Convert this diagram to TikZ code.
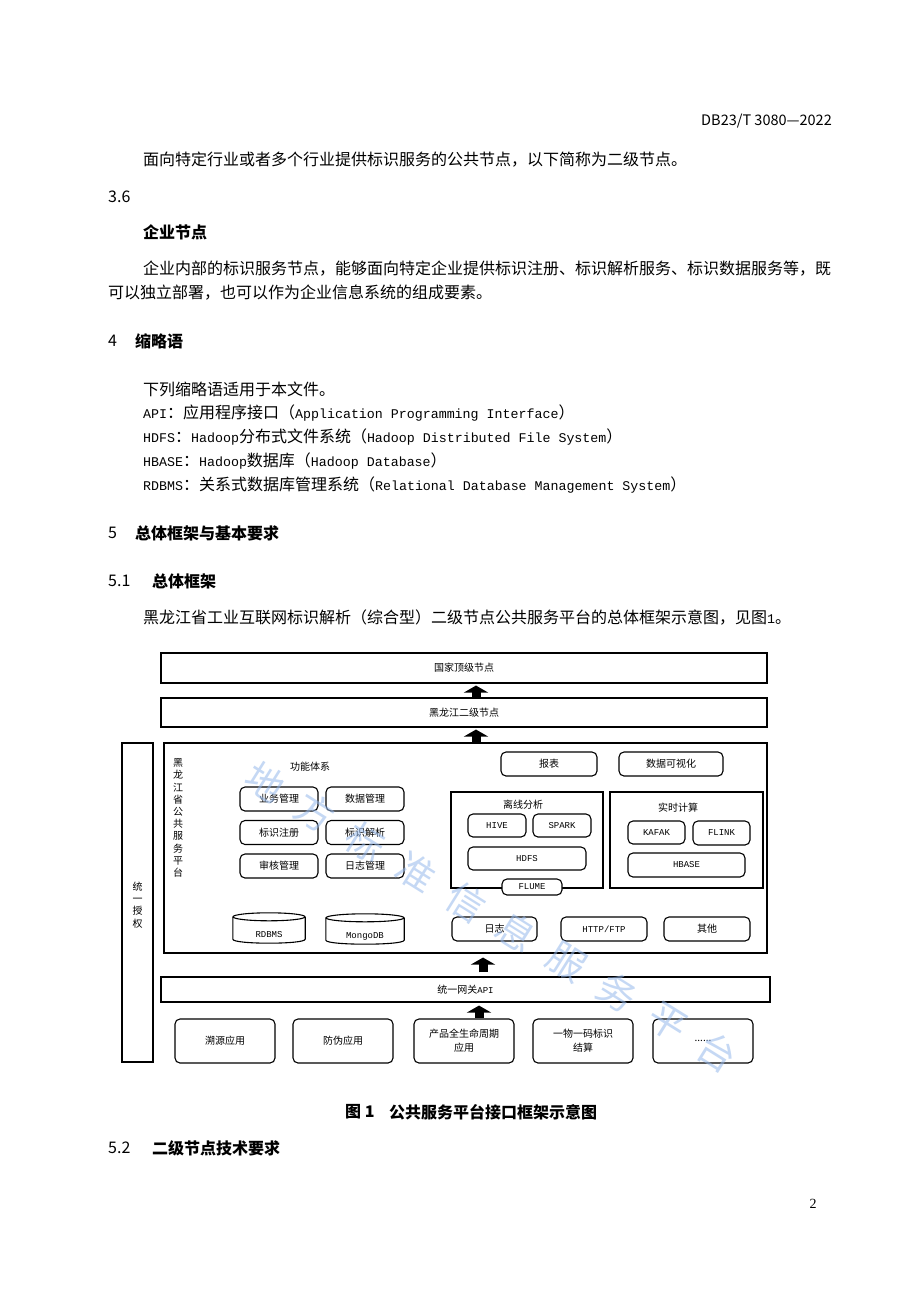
\documentclass[tikz,border=0pt]{standalone}
\usepackage{fontspec}
\setmainfont{Noto Sans CJK SC}
\newfontfamily\latmono{Liberation Mono}
\newfontfamily\latserif{Liberation Serif}
\usetikzlibrary{arrows.meta}
\definecolor{wmblue}{RGB}{150,185,235}
\newcommand\en[1]{{\fontsize{13.3pt}{16pt}\latmono #1}}
\newcommand\dm[1]{{\fontsize{9pt}{10pt}\latmono #1}}
\tikzset{
  body/.style={anchor=west, inner sep=0pt, font=\fontsize{16pt}{19pt}\selectfont},
  heading/.style={body, font=\fontsize{16pt}{19pt}\selectfont\bfseries},
  layer/.style={draw, line width=1.1pt, inner sep=0pt, align=center, font=\fontsize{10pt}{14pt}\selectfont},
  tile/.style={layer, rounded corners=5pt},
  size/.style 2 args={minimum width=#1pt, minimum height=#2pt},
  vtext/.style={inner sep=0pt, align=center, font=\fontsize{10pt}{12.2pt}\selectfont},
  upblock/.style={line width=9pt, -{Triangle[width=24pt,length=7pt]}},
}
\begin{document}
\begin{tikzpicture}[x=1pt,y=-1pt]
\useasboundingbox[fill=white] (0,0) rectangle (920,1302);
% page text
\node[anchor=east, inner sep=0pt, font=\fontsize{14.5pt}{17pt}\selectfont] (docno) at (832,121) {DB23/T 3080—2022};
\node[body] (def35) at (143,160) {面向特定行业或者多个行业提供标识服务的公共节点，以下简称为二级节点。};
\node[body] (no36) at (108,197) {3.6};
\node[heading] (term36) at (143,232) {企业节点};
\node[body] (def36a) at (143,269) {企业内部的标识服务节点，能够面向特定企业提供标识注册、标识解析服务、标识数据服务等，既};
\node[body] (def36b) at (108,293) {可以独立部署，也可以作为企业信息系统的组成要素。};
\node[body] (no4) at (108,341) {4};
\node[heading] (sec4) at (135,341) {缩略语};
\node[body] (abbr0) at (143,389) {下列缩略语适用于本文件。};
\node[body] (abbr1) at (143,413) {\en{API}：应用程序接口（\en{Application Programming Interface}）};
\node[body] (abbr2) at (143,437) {\en{HDFS}：\en{Hadoop}分布式文件系统（\en{Hadoop Distributed File System}）};
\node[body] (abbr3) at (143,461) {\en{HBASE}：\en{Hadoop}数据库（\en{Hadoop Database}）};
\node[body] (abbr4) at (143,485) {\en{RDBMS}：关系式数据库管理系统（\en{Relational Database Management System}）};
\node[body] (no5) at (108,533) {5};
\node[heading] (sec5) at (135,533) {总体框架与基本要求};
\node[body] (no51) at (108,581) {5.1};
\node[heading] (sec51) at (152,581) {总体框架};
\node[body] (intro) at (143,617) {黑龙江省工业互联网标识解析（综合型）二级节点公共服务平台的总体框架示意图，见图\en{1}。};
\node[heading] (capno) at (345,1112) {图 1};
\node[heading] (captext) at (389,1112) {公共服务平台接口框架示意图};
\node[body] (no52) at (108,1148) {5.2};
\node[heading] (sec52) at (152,1148) {二级节点技术要求};
\node[inner sep=0pt, font=\fontsize{14pt}{16pt}\latserif] (pageno) at (813,1204) {2};
% framework
\node[layer, size={606}{30}] (natl) at (464,668) {国家顶级节点};
\node[layer, size={606}{29}] (heilj) at (464,712.5) {黑龙江二级节点};
\node[layer, size={31}{319}] (auth) at (137.5,902.5) {};
\node[vtext] (authlabel) at (137.5,905) {统\\一\\授\\权};
\node[layer, size={603}{210}] (platform) at (465.5,848) {};
\node[vtext] (platlabel) at (178,818) {黑\\龙\\江\\省\\公\\共\\服\\务\\平\\台};
\node[vtext] (functitle) at (310,767) {功能体系};
\node[tile, size={78}{24}] (biz) at (279,799) {业务管理};
\node[tile, size={78}{24}] (data) at (365,799) {数据管理};
\node[tile, size={78}{24}] (reg) at (279,832.5) {标识注册};
\node[tile, size={78}{24}] (res) at (365,832.5) {标识解析};
\node[tile, size={78}{24}] (audit) at (279,866) {审核管理};
\node[tile, size={78}{24}] (logmgr) at (365,866) {日志管理};
% databases
\node[inner sep=0pt, size={72}{22}] (rdbms) at (269,928) {};
\draw[line width=1.1pt] (rdbms.north west) -- (rdbms.south west)
  .. controls ([yshift=-5.3pt]rdbms.south west) and ([yshift=-5.3pt]rdbms.south east) .. (rdbms.south east) -- (rdbms.north east);
\draw[line width=1.1pt] (rdbms.north) ellipse[x radius=36pt, y radius=4pt];
\node[inner sep=0pt] (rdbmslabel) at (269,935) {\dm{RDBMS}};
\node[inner sep=0pt, size={78}{22}] (mongo) at (365,929) {};
\draw[line width=1.1pt] (mongo.north west) -- (mongo.south west)
  .. controls ([yshift=-5.3pt]mongo.south west) and ([yshift=-5.3pt]mongo.south east) .. (mongo.south east) -- (mongo.north east);
\draw[line width=1.1pt] (mongo.north) ellipse[x radius=39pt, y radius=4pt];
\node[inner sep=0pt] (mongolabel) at (365,936) {\dm{MongoDB}};
% analysis
\node[tile, size={96}{24}] (report) at (549,764) {报表};
\node[tile, size={104}{24}] (visual) at (671,764) {数据可视化};
\node[layer, size={152}{96}] (offline) at (527,840) {};
\node[vtext] (offtitle) at (523,805) {离线分析};
\node[tile, size={58}{23}] (hive) at (497,825.5) {\dm{HIVE}};
\node[tile, size={58}{23}] (spark) at (562,825.5) {\dm{SPARK}};
\node[tile, size={118}{23}] (hdfs) at (527,858.5) {\dm{HDFS}};
\node[tile, fill=white, size={60}{16}] (flume) at (532,887) {\dm{FLUME}};
\node[layer, size={153}{96}] (realtime) at (686.5,840) {};
\node[vtext] (rttitle) at (678,808) {实时计算};
\node[tile, size={57}{23}] (kafak) at (656.5,832.5) {\dm{KAFAK}};
\node[tile, size={57}{24}] (flink) at (721.5,833) {\dm{FLINK}};
\node[tile, size={117}{24}] (hbase) at (686.5,865) {\dm{HBASE}};
\node[tile, size={85}{24}] (logsrc) at (494.5,929) {日志};
\node[tile, size={86}{24}] (http) at (604,929) {\dm{HTTP/FTP}};
\node[tile, size={86}{24}] (other) at (707,929) {其他};
% gateway and applications
\node[layer, size={609}{25}] (api) at (465.5,989.5) {统一网关\dm{API}};
\node[tile, size={100}{44}] (trace) at (225,1041) {溯源应用};
\node[tile, size={100}{44}] (anti) at (343,1041) {防伪应用};
\node[tile, size={100}{44}] (life) at (464,1041) {产品全生命周期\\应用};
\node[tile, size={100}{44}] (code) at (583,1041) {一物一码标识\\结算};
\node[tile, size={100}{44}] (more) at (703,1041) {......};
% arrows
\coordinate (colA) at (476,0);
\coordinate (colB) at (483,0);
\coordinate (colC) at (479,0);
\draw[upblock, shorten >=2pt] (colA |- heilj.north) -- (colA |- natl.south);
\draw[upblock, shorten >=2pt] (colA |- platform.north) -- (colA |- heilj.south);
\draw[upblock, shorten <=4pt, shorten >=4pt] (colB |- api.north) -- (colB |- platform.south);
\draw[upblock, shorten >=3pt] (colC |- life.north) -- (colC |- api.south);
% watermark
\foreach \c [count=\i from 0] in {地,方,标,准,信,息,服,务,平,台}
  \node[text=wmblue, opacity=0.55, rotate=-32, inner sep=0pt, font=\fontsize{38pt}{40pt}\selectfont] (wm\i) at ({265+50.3*\i},{782+30*\i}) {\c};
\end{tikzpicture}
\end{document}
